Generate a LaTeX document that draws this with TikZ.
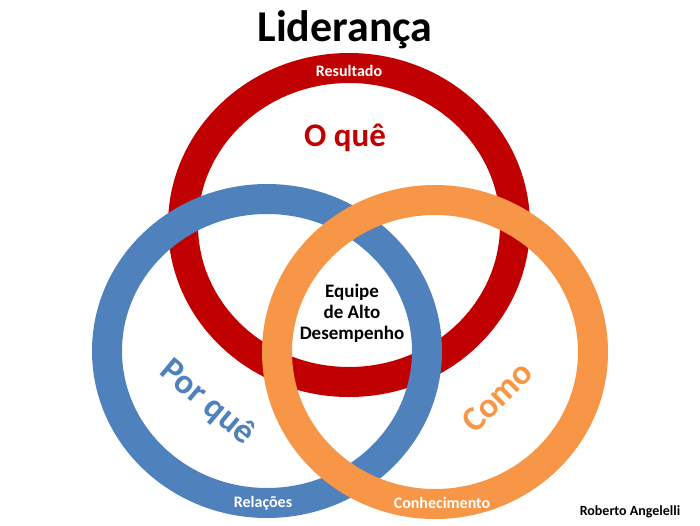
\documentclass[tikz,border=0pt]{standalone}
\usepackage{fontspec}
\setmainfont{Carlito}
\definecolor{ringred}{HTML}{C00000}
\definecolor{ringblue}{HTML}{4F81BD}
\definecolor{ringorange}{HTML}{F79646}
\tikzset{
  ring/.style={line width=30pt},
  bandlabel/.style={text=white, font=\bfseries\fontsize{16}{18}\selectfont},
  biglabel/.style={font=\bfseries\fontsize{35}{38}\selectfont, inner sep=0pt}
}
\begin{document}
\begin{tikzpicture}[x=1pt, y=-1pt]
    \useasboundingbox (0,0) rectangle (700,525);
    % Rings
    \draw[ring, ringred] (349,225) ellipse [x radius=166, y radius=157];
    \draw[ring, ringblue] (267,351) ellipse [x radius=160, y radius=152];
    \draw[ring, ringorange] (435,352) ellipse [x radius=158, y radius=152];
    % Labels
    \node (title) at (345,30) {\bfseries\fontsize{44}{48}\selectfont Liderança};
    \node[bandlabel] (resultado) at (349,71) {Resultado};
    \node[biglabel, text=ringred, font=\bfseries\fontsize{33}{36}\selectfont] (oque) at (345,138) {O quê};
    \node[align=center, font=\bfseries\fontsize{19}{21}\selectfont] (equipe) at (352,313) {Equipe\\de Alto\\Desempenho};
    \node[biglabel, text=ringblue, rotate=-40] (porque) at (207,403) {Por quê};
    \node[biglabel, text=ringorange, rotate=45] (como) at (497,397) {Como};
    \node[bandlabel] (relacoes) at (263,503) {Relações};
    \node[bandlabel] (conhecimento) at (442,503) {Conhecimento};
    \node[font=\bfseries\fontsize{14}{16}\selectfont] (autor) at (630,512) {Roberto Angelelli};
\end{tikzpicture}
\end{document}
